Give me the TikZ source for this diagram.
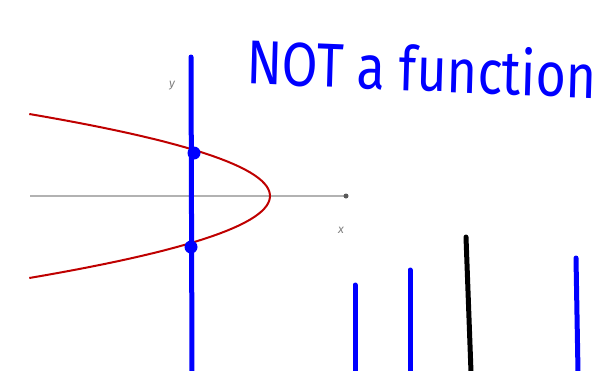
\documentclass[tikz,border=0pt]{standalone}
\usepackage{fontspec}
\setmainfont{Fira Sans}
\usetikzlibrary{calc, arrows.meta, positioning}

\begin{document}
\begin{tikzpicture}[
        x=1pt, y=-1pt,
        axis/.style={draw=gray!60, line width=1.5pt},
        curve/.style={draw=red!75!black, line width=2pt},
        pen/.style={draw=blue, line width=5pt, line cap=round},
        ink/.style={draw=black, line width=5pt, line cap=round},
        hit/.style={circle, fill=blue, inner sep=0pt, minimum size=13pt},
        tiny/.style={text=gray, font=\itshape\large}
    ]
    \useasboundingbox (0,0) rectangle (613,370);

    % axes of the graph
    \coordinate (xl) at (30,196);
    \coordinate (xr) at (346,196);
    \draw[axis] (xl) -- (xr);
    \node[circle, fill=gray!70!black, inner sep=0pt, minimum size=5pt] (tip) at (xr) {};
    \node[tiny] (xlab) at (341,230) {x};
    \node[tiny] (ylab) at (172,86) {y};

    % sideways parabola
    \draw[curve, domain=-82:82, samples=60, variable=\t]
        plot ({270-0.0358*\t*\t}, {196+\t});

    % vertical line test
    \coordinate (vtop) at (191,57);
    \coordinate (vbot) at (192,372);
    \draw[pen] (vtop) -- (vbot);
    \node[hit] (p1) at (194,153) {};
    \node[hit] (p2) at (191,247) {};

    % handwritten title
    \node[text=blue, font=\fontsize{62}{62}\selectfont\mdseries, xscale=0.84, anchor=west, rotate=-2] (title) at (244,60) {NOT a function};

    % strokes at the bottom
    \coordinate (s1) at (355,285);  \coordinate (e1) at (355,372);
    \coordinate (s2) at (410,270);  \coordinate (e2) at (410,372);
    \coordinate (s3) at (466,237);  \coordinate (e3) at (471,372);
    \coordinate (s4) at (576,258);  \coordinate (e4) at (578,372);
    \draw[pen] (s1) -- (e1);
    \draw[pen] (s2) -- (e2);
    \draw[ink] (s3) -- (e3);
    \draw[pen] (s4) -- (e4);
\end{tikzpicture}
\end{document}
